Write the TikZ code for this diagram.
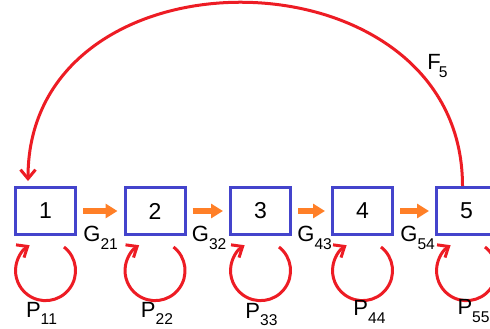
\documentclass[tikz,border=0pt]{standalone}
\usepackage{fontspec}
\setmainfont{Liberation Sans}
\usepackage{xcolor}
\usetikzlibrary{positioning, calc, arrows.meta}
\definecolor{boxblue}{RGB}{68,68,204}
\definecolor{loopred}{RGB}{237,28,36}
\definecolor{floworange}{RGB}{255,127,39}
% letter with a lowered index, optional kern between them
\newcommand{\sublab}[3][0pt]{#2\kern#1\raisebox{-3.75pt}{\fontsize{7.8}{9}\selectfont #3}}

\begin{document}
\begin{tikzpicture}[x=0.5pt, y=0.5pt,
    stage/.style={draw=boxblue, line width=1.5pt, minimum width=30pt, minimum height=23.5pt,
                  inner sep=0pt, font=\fontsize{11.5}{13}\selectfont},
    feed/.style={draw=loopred, line width=1.5pt, -{Straight Barb[length=4.5pt,width=7.5pt]}},
    flow/.style={draw=floworange, line width=3.3pt, -{Triangle[length=6pt,width=7pt]},
                 shorten <=3pt, shorten >=3pt},
    lbl/.style={inner sep=0pt, font=\fontsize{11}{12}\selectfont}]

    \useasboundingbox (0,0) rectangle (490,328);
    \clip (0,0) rectangle (490,328);

    % --- Stages ---
    \node[stage] (b1) at (45.5,117) {1};
    \node[stage] (b2) at (155,117) {2};
    \node[stage] (b3) at (260.5,117) {3};
    \node[stage] (b4) at (362.5,117) {4};
    \node[stage] (b5) at (466.5,117) {5};

    % --- Forward transfers ---
    \draw[flow] (b1) -- (b2);
    \draw[flow] (b2) -- (b3);
    \draw[flow] (b3) -- (b4);
    \draw[flow] (b4) -- (b5);
    \node[lbl, anchor=north west] (g21) at ($(b1.east)+(6,-15)$) {\sublab{G}{21}};
    \node[lbl, anchor=north west] (g32) at ($(b2.east)+(5,-15)$) {\sublab{G}{32}};
    \node[lbl, anchor=north west] (g43) at ($(b3.east)+(5,-15)$) {\sublab{G}{43}};
    \node[lbl, anchor=north west] (g54) at ($(b4.east)+(6,-15)$) {\sublab{G}{54}};

    % --- Self loops (clockwise, arrow back into the box) ---
    \draw[feed] ($(b1.south)+(18.5,-11)$) arc[start angle=52, end angle=-238, radius=30];
    \draw[feed] ($(b2.south)+(18.5,-11)$) arc[start angle=52, end angle=-238, radius=30];
    \draw[feed] ($(b3.south)+(18.5,-11)$) arc[start angle=52, end angle=-238, radius=30];
    \draw[feed] ($(b4.south)+(18.5,-11)$) arc[start angle=52, end angle=-238, radius=30];
    \draw[feed] ($(b5.south)+(18.5,-11)$) arc[start angle=52, end angle=-238, radius=30];
    \node[lbl, anchor=north] (p11) at ($(b1.south)+(-4,-65.5)$) {\sublab{P}{11}};
    \node[lbl, anchor=north] (p22) at ($(b2.south)+(2,-65.5)$) {\sublab{P}{22}};
    \node[lbl, anchor=north] (p33) at ($(b3.south)+(1,-66.5)$) {\sublab{P}{33}};
    \node[lbl, anchor=north] (p44) at ($(b4.south)+(7,-64)$) {\sublab{P}{44}};
    \node[lbl, anchor=north] (p55) at ($(b5.south)+(7,-63)$) {\sublab{P}{55}};

    % --- Feedback from the last stage to the first ---
    \draw[feed] ([xshift=-2pt]b5.north) .. controls +(0,241) and +(0,241) .. ([xshift=-8.75pt,yshift=2.5pt]b1.north);
    \node[lbl, anchor=north west] (f5) at (427,274) {\sublab[-1pt]{F}{5}};

\end{tikzpicture}
\end{document}
